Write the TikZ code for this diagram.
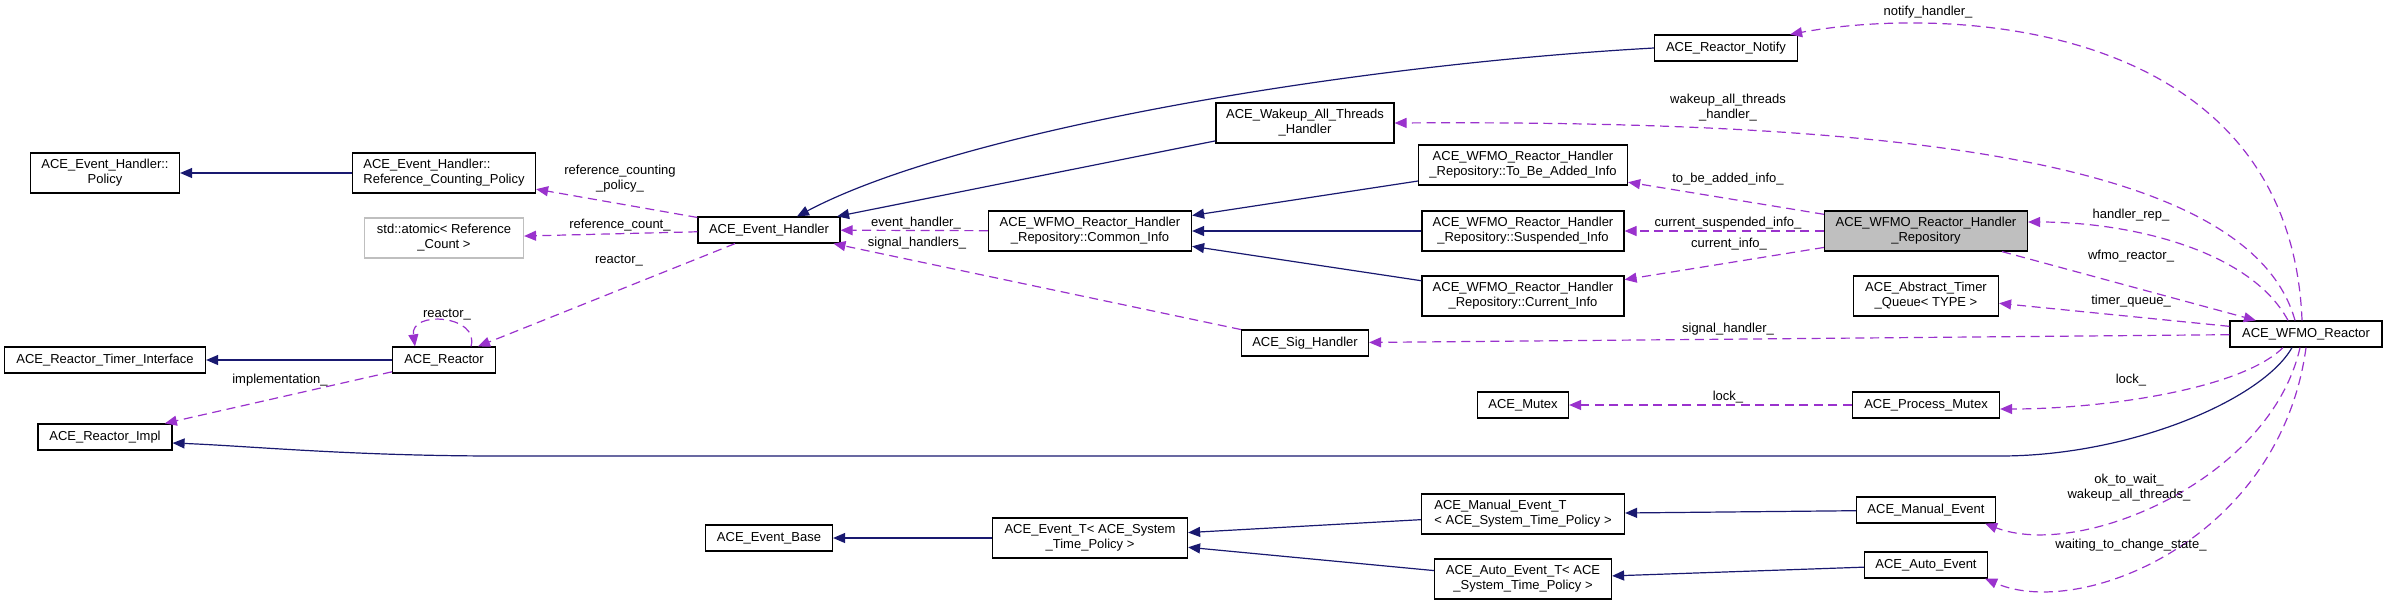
\documentclass[tikz,border=0pt]{standalone}
\usepackage{fontspec}
\setmainfont{Liberation Sans}
\usetikzlibrary{arrows.meta}
\definecolor{navy}{HTML}{191970}
\definecolor{orchid}{HTML}{9A32CD}
\tikzset{
  klass/.style   = {shape=rectangle, draw, fill=white, line width=0.6pt,
                    align=center, font=\fontsize{6.5}{7.5}\selectfont,
                    inner xsep=2pt, inner ysep=0pt, minimum height=13pt},
  twoline/.style = {klass, minimum height=20pt},
  focus/.style   = {twoline, fill=black!25},
  extern/.style  = {twoline, draw=black!25},
  lbl/.style     = {font=\fontsize{6.5}{7.5}\selectfont, align=center,
                    inner sep=0pt},
  inherit/.style = {color=navy, line width=0.6pt,
                    -{Triangle[length=6pt,width=5pt]}},
  usage/.style   = {color=orchid, line width=0.6pt,
                    dash pattern=on 4.5pt off 2.8pt,
                    -{Triangle[length=6pt,width=5pt]}}
}

\begin{document}
\begin{tikzpicture}[x=0.5pt, y=-0.5pt]
  \useasboundingbox (0,0) rectangle (2387,606);

  \node[twoline, minimum width=74.5pt] (policy) at (105,173) {ACE\_Event\_Handler::\\Policy};
  \node[twoline, align=left, minimum width=91.5pt] (refpol) at (444,173) {ACE\_Event\_Handler::\\Reference\_Counting\_Policy};
  \node[extern, minimum width=79.5pt] (atomic) at (444,238) {std::atomic< Reference\\\_Count >};
  \node[klass, minimum width=100.5pt] (timerif) at (105,360) {ACE\_Reactor\_Timer\_Interface};
  \node[klass, minimum width=51.5pt] (reactor) at (444,360) {ACE\_Reactor};
  \node[klass, minimum width=67pt] (impl) at (105,437) {ACE\_Reactor\_Impl};
  \node[klass, minimum width=71pt] (handler) at (769,230) {ACE\_Event\_Handler};
  \node[twoline, minimum width=101.5pt] (common) at (1090,231) {ACE\_WFMO\_Reactor\_Handler\\\_Repository::Common\_Info};
  \node[twoline, minimum width=89pt] (wakeup) at (1305,123) {ACE\_Wakeup\_All\_Threads\\\_Handler};
  \node[klass, minimum width=63.5pt] (sig) at (1305,343) {ACE\_Sig\_Handler};
  \node[klass, minimum width=71.5pt] (notify) at (1726,48) {ACE\_Reactor\_Notify};
  \node[twoline, minimum width=104.5pt] (tobeadded) at (1523,165) {ACE\_WFMO\_Reactor\_Handler\\\_Repository::To\_Be\_Added\_Info};
  \node[twoline, minimum width=101pt] (suspended) at (1523,231) {ACE\_WFMO\_Reactor\_Handler\\\_Repository::Suspended\_Info};
  \node[twoline, minimum width=101pt] (current) at (1523,296) {ACE\_WFMO\_Reactor\_Handler\\\_Repository::Current\_Info};
  \node[focus, minimum width=101.5pt] (repo) at (1926,231) {ACE\_WFMO\_Reactor\_Handler\\\_Repository};
  \node[twoline, minimum width=72.5pt] (timerq) at (1926,296) {ACE\_Abstract\_Timer\\\_Queue< TYPE >};
  \node[klass, minimum width=76pt] (wfmo) at (2306,334) {ACE\_WFMO\_Reactor};
  \node[klass, minimum width=45.5pt] (mutex) at (1523,405) {ACE\_Mutex};
  \node[klass, minimum width=73.5pt] (pmutex) at (1926,405) {ACE\_Process\_Mutex};
  \node[klass, minimum width=63.5pt] (evbase) at (769,538) {ACE\_Event\_Base};
  \node[twoline, minimum width=97.5pt] (evt) at (1090,538) {ACE\_Event\_T< ACE\_System\\\_Time\_Policy >};
  \node[twoline, align=left, minimum width=101.5pt] (manualt) at (1523,514) {ACE\_Manual\_Event\_T\\< ACE\_System\_Time\_Policy >};
  \node[klass, minimum width=69.5pt] (manual) at (1926,510) {ACE\_Manual\_Event};
  \node[twoline, minimum width=88.5pt] (autot) at (1523,579) {ACE\_Auto\_Event\_T< ACE\\\_System\_Time\_Policy >};
  \node[klass, minimum width=61.5pt] (autoev) at (1926,565) {ACE\_Auto\_Event};

  \draw[inherit]
    \foreach \a/\b in {refpol/policy, reactor/timerif, evt/evbase,
                       wakeup/handler, tobeadded/common, suspended/common,
                       current/common, manualt/evt, autot/evt,
                       manual/manualt, autoev/autot} {
      (\a) edge (\b) };
  \draw[inherit] (notify.west) .. controls (1350,65) and (960,130) .. ([xshift=14pt]handler.north);
  \draw[inherit] ([xshift=-7pt]wfmo.south) .. controls (2262,400) and (2130,456) .. (2000,456)
    -- (500,456) .. controls (350,456) and (250,446) .. ([yshift=-3pt]impl.east);

  \draw[usage]
    \foreach \a/\b in {handler/refpol, handler/atomic, handler/reactor,
                       reactor/impl, common/handler, sig/handler,
                       repo/tobeadded, repo/suspended, repo/current,
                       repo/wfmo, wfmo/timerq, wfmo/sig, pmutex/mutex} {
      (\a) edge (\b) };
  \draw[usage] ([xshift=13.5pt]reactor.north) .. controls (480,315) and (410,310) .. ([xshift=-14.5pt]reactor.north);
  \draw[usage] ([xshift=-2pt]wfmo.north) .. controls (2290,20) and (1950,5) .. ([xshift=-4pt]notify.north east);
  \draw[usage] ([xshift=-5.5pt]wfmo.north) .. controls (2250,160) and (1900,120) .. (wakeup.east);
  \draw[usage] ([xshift=-9pt]wfmo.north) .. controls (2250,250) and (2130,222) .. ([yshift=4.5pt]repo.east);
  \draw[usage] ([xshift=-11.5pt]wfmo.south) .. controls (2240,390) and (2100,409) .. ([yshift=-2pt]pmutex.east);
  \draw[usage] ([xshift=-3pt]wfmo.south) .. controls (2270,480) and (2080,560) .. ([xshift=-5.5pt]manual.south east);
  \draw[usage] (wfmo.south) .. controls (2280,540) and (2080,620) .. ([xshift=-1.5pt]autoev.south east);

  \node[lbl] (l-refpol) at (620,179) {reference\_counting\\\_policy\_};
  \node[lbl] (l-refcnt) at (620,225) {reference\_count\_};
  \node[lbl] (l-reactor) at (619,261) {reactor\_};
  \node[lbl] (l-self) at (447,315) {reactor\_};
  \node[lbl] (l-impl) at (280,380) {implementation\_};
  \node[lbl] (l-evh) at (916,223) {event\_handler\_};
  \node[lbl] (l-sigs) at (917,243) {signal\_handlers\_};
  \node[lbl] (l-notify) at (1928,12) {notify\_handler\_};
  \node[lbl] (l-wakeup) at (1728,108) {wakeup\_all\_threads\\\_handler\_};
  \node[lbl] (l-tba) at (1728,179) {to\_be\_added\_info\_};
  \node[lbl] (l-susp) at (1728,223) {current\_suspended\_info\_};
  \node[lbl] (l-cur) at (1729,244) {current\_info\_};
  \node[lbl] (l-rep) at (2131,215) {handler\_rep\_};
  \node[lbl] (l-wfmo) at (2131,256) {wfmo\_reactor\_};
  \node[lbl] (l-tq) at (2131,301) {timer\_queue\_};
  \node[lbl] (l-sig) at (1728,329) {signal\_handler\_};
  \node[lbl] (l-lock) at (1728,397) {lock\_};
  \node[lbl] (l-plock) at (2131,380) {lock\_};
  \node[lbl] (l-ok) at (2129,488) {ok\_to\_wait\_\\wakeup\_all\_threads\_};
  \node[lbl] (l-wait) at (2131,545) {waiting\_to\_change\_state\_};
\end{tikzpicture}
\end{document}
